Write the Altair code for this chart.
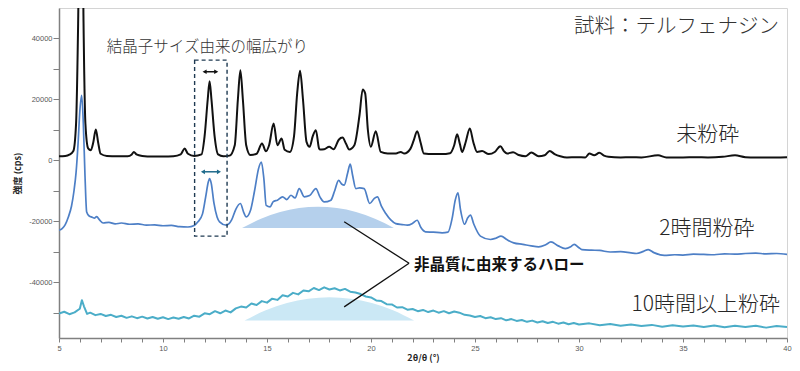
import altair as alt
import pandas as pd

# ---------------- data ----------------
black_x = [5.0, 5.3, 5.5, 5.69, 5.82, 5.92, 6.02, 6.1, 6.18, 6.27, 6.4, 6.53, 6.65, 6.77, 6.88, 7.0, 7.3, 7.8, 8.3, 8.5,
           8.6, 8.72, 9.0, 9.5, 10.0, 10.5, 10.85, 11.04, 11.2, 11.5, 11.85, 12.0, 12.15, 12.24, 12.33, 12.48, 12.65, 12.9,
           13.2, 13.45, 13.6, 13.72, 13.84, 14.0, 14.2, 14.5, 14.76, 14.95, 15.1, 15.32, 15.5, 15.7, 15.85, 16.1, 16.3,
           16.45, 16.59, 16.73, 16.9, 17.05, 17.2, 17.35, 17.5, 17.54, 17.75, 17.99, 18.2, 18.45, 18.63, 18.8, 18.95,
           19.2, 19.45, 19.6, 19.72, 19.85, 19.99, 20.23, 20.47, 20.8, 21.2, 21.43, 21.6, 21.9, 22.05, 22.22, 22.38,
           22.54, 23.0, 23.4, 23.8, 24.0, 24.14, 24.27, 24.38, 24.55, 24.75, 24.92, 25.1, 25.34, 25.66, 25.95, 26.22,
           26.4, 26.54, 26.83, 27.1, 27.42, 27.71, 28.06, 28.35, 28.59, 28.85, 29.1, 29.42, 29.9, 30.3, 30.5, 30.73,
           30.98, 31.2, 31.41, 32.0, 32.5, 33.0, 33.8, 34.2, 35.0, 35.6, 36.2, 36.9, 37.5, 38.0, 38.5, 39.0, 40.0]
black_y = [1400, 1500, 1900, 3100, 12000, 45000, 100000, 100000, 45000, 12000, 4000, 3400, 6000, 10200, 6000, 2200,
           1500, 1400, 1400, 2000, 2800, 2000, 1500, 1300, 1300, 1400, 2000, 3900, 2200, 1500, 2000, 8000, 20000, 26000,
           20000, 8000, 2000, 1400, 1600, 5000, 20000, 29600, 20000, 5000, 1800, 2200, 5600, 3000, 5000, 12100, 5000,
           7200, 3500, 2800, 8000, 22000, 29400, 20000, 6100, 4500, 8000, 9900, 4000, 3600, 3700, 4500, 3700, 6800,
           7500, 5500, 3600, 5000, 15000, 23300, 22000, 10000, 4500, 9600, 2800, 2300, 2300, 2800, 2300, 3900, 6500,
           9600, 6000, 2300, 2100, 2100, 2400, 5000, 8600, 5500, 2800, 6000, 10500, 6000, 2800, 3100, 2100, 2800, 4700,
           3000, 2300, 2700, 1800, 1400, 2600, 1400, 1700, 3100, 2000, 1400, 1000, 1100, 1000, 2300, 1700, 2500, 1600,
           1200, 1000, 1100, 1000, 1700, 1000, 1000, 1100, 1000, 1200, 1700, 1100, 1000, 1000, 1100]

blue_x = [5.0, 5.15, 5.3, 5.45, 5.6, 5.72, 5.82, 5.92, 6.0, 6.09, 6.17, 6.25, 6.33, 6.45, 6.6, 6.7, 6.81, 6.95, 7.12,
          7.4, 7.7, 8.0, 8.4, 8.8, 9.2, 9.6, 10.0, 10.4, 10.8, 11.2, 11.5, 11.68, 11.9, 12.05, 12.18, 12.24, 12.32,
          12.45, 12.6, 12.72, 13.04, 13.3, 13.5, 13.72, 13.88, 14.0, 14.2, 14.4, 14.6, 14.73, 14.85, 14.96, 15.15,
          15.3, 15.5, 15.75, 15.95, 16.15, 16.35, 16.55, 16.79, 17.05, 17.35, 17.55, 17.75, 18.07, 18.25, 18.44, 18.6,
          18.71, 18.88, 19.0, 19.12, 19.27, 19.45, 19.67, 19.94, 20.15, 20.31, 20.5, 20.71, 20.95, 21.19, 21.5, 21.75,
          22.0, 22.22, 22.4, 22.62, 23.0, 23.42, 23.7, 23.9, 24.05, 24.18, 24.3, 24.5, 24.65, 24.78, 24.95, 25.26,
          25.74, 26.0, 26.25, 26.55, 26.86, 27.3, 27.7, 28.06, 28.4, 28.65, 29.0, 29.34, 29.6, 29.77, 30.0, 30.14,
          30.6, 31.0, 31.5, 32.0, 32.5, 32.76, 33.1, 33.33, 33.6, 34.1, 34.6, 35.0, 35.5, 36.0, 36.5, 37.0, 37.5,
          38.0, 38.5, 39.0, 39.5, 40.0]
blue_y = [-22900, -22300, -21000, -18500, -15000, -10000, -4000, 6000, 16000, 21400, 12000, -5000, -16900, -18200,
          -18600, -18900, -18400, -19500, -20500, -20300, -20800, -20500, -20900, -20800, -21200, -21100, -21400,
          -21300, -21700, -21800, -21300, -20100, -17500, -12000, -7000, -5900, -7500, -14000, -18500, -20100, -21200,
          -19500, -16000, -14100, -17000, -18500, -16500, -10000, -2500, -500, -6000, -14700, -15200, -13500, -13000,
          -11900, -12800, -11400, -12300, -9200, -11900, -11500, -9200, -12000, -13600, -13000, -10000, -6500, -7800,
          -8100, -4000, -1200, -5000, -9200, -9000, -9200, -14100, -12500, -11900, -15000, -17400, -19500, -20700,
          -21000, -21200, -20600, -19600, -22000, -23400, -23500, -23700, -23500, -19000, -13000, -10600, -16000,
          -20900, -18800, -17900, -21000, -24800, -25900, -25500, -24800, -26000, -27000, -27500, -28000, -28300,
          -27600, -26700, -28000, -28900, -28300, -27500, -28600, -29200, -29400, -29500, -30000, -29900, -30300,
          -30500, -29800, -29200, -30200, -31100, -30900, -31000, -30700, -30800, -30900, -30600, -30700, -30500,
          -30400, -30600, -30500, -30800]

cyan_x = [5.0, 5.25, 5.5, 5.75, 6.0, 6.1, 6.2, 6.35, 6.5, 6.75, 7.0, 7.25, 7.5, 7.75, 8.0, 8.25, 8.5, 8.75, 9.0,
          9.25, 9.5, 9.75, 10.0, 10.25, 10.5, 10.75, 11.0, 11.25, 11.5, 11.75, 12.0, 12.25, 12.5, 12.75, 13.0, 13.25,
          13.5, 13.75, 14.0, 14.25, 14.5, 14.75, 15.0, 15.25, 15.5, 15.75, 16.0, 16.25, 16.5, 16.75, 17.0, 17.25,
          17.5, 17.75, 18.0, 18.25, 18.5, 18.75, 19.0, 19.25, 19.5, 19.75, 20.0, 20.25, 20.5, 20.75, 21.0, 21.25,
          21.5, 21.75, 22.0, 22.25, 22.5, 22.75, 23.0, 23.25, 23.5, 23.75, 24.0, 24.25, 24.5, 24.75, 25.0, 25.25,
          25.5, 25.75, 26.0, 26.25, 26.5, 26.75, 27.0, 27.25, 27.5, 27.75, 28.0, 28.25, 28.5, 28.75, 29.0, 29.25,
          29.5, 29.75, 30.0, 30.5, 31.0, 31.5, 32.0, 32.5, 33.0, 33.5, 34.0, 34.5, 35.0, 35.5, 36.0, 36.5, 37.0,
          37.5, 38.0, 38.5, 39.0, 39.5, 40.0]
cyan_y = [-50200, -49600, -50400, -49800, -48600, -45800, -47800, -50300, -49900, -50700, -50300, -51000, -50600,
          -51300, -50900, -51600, -51100, -51700, -51200, -51800, -51300, -51900, -51400, -52000, -51500, -51900,
          -51300, -51800, -50900, -51200, -50100, -50400, -49400, -50100, -49200, -49800, -48500, -47900, -48200,
          -46900, -47400, -46100, -46600, -45300, -45700, -44200, -44600, -43400, -43900, -42600, -42900, -41800,
          -42500, -41600, -42300, -41900, -42600, -42100, -43000, -43300, -43800, -44600, -44900, -45900, -46100,
          -47100, -47200, -48200, -48100, -48900, -48700, -49400, -49000, -49700, -49200, -49900, -49400, -50100,
          -49500, -49900, -50600, -50800, -51300, -51000, -51700, -51400, -52000, -51700, -52400, -52000, -52600,
          -52300, -52900, -52500, -53100, -52700, -53300, -52900, -53500, -53100, -53700, -53300, -53800, -53400,
          -54000, -53600, -54200, -53800, -54300, -53900, -54500, -54000, -54400, -54100, -54600, -54100, -54700,
          -54200, -54600, -54200, -54800, -54300, -54600]

series_names = ["未粉砕", "2時間粉砕", "10時間以上粉砕"]
series_colors = ["#111111", "#4d7fc6", "#4badc8"]

# amorphous halo domes
halo1_x = [13.8, 14.71, 15.63, 16.54, 17.45, 18.36, 19.28, 20.19, 21.1]
halo1_top = [-22100, -19100, -16900, -15600, -15200, -15600, -16900, -19100, -22100]
halo1_base = -22100
halo2_x = [13.92, 14.94, 15.96, 16.98, 18.0, 19.02, 20.04, 21.06, 22.07]
halo2_top = [-52500, -49100, -46700, -45300, -44800, -45300, -46700, -49100, -52500]
halo2_base = -52500

# annotation geometry (data coordinates)
box_x = [11.52, 13.08]
box_y = [32900, -24800]
arrow_black = [12.0, 12.56, 29100]
arrow_teal = [11.92, 12.69, -3700]
leader_from = [21.83, -33700]
leader_to = [[18.71, -20100], [18.71, -48000]]

title_text = "試料：テルフェナジン"
broad_text = "結晶子サイズ由来の幅広がり"
halo_text = "非晶質に由来するハロー"
label_pos = [[34.67, 8300], [33.86, -22300], [32.52, -47500]]

# ---------------- frames ----------------
black_df = pd.DataFrame({"x": black_x, "y": black_y})
blue_df = pd.DataFrame({"x": blue_x, "y": blue_y})
cyan_df = pd.DataFrame({"x": cyan_x, "y": cyan_y})

h1 = pd.DataFrame({"x": halo1_x, "y": halo1_top, "y2": halo1_base})
h2 = pd.DataFrame({"x": halo2_x, "y": halo2_top, "y2": halo2_base})

FONT_JP = "Noto Sans CJK JP"
FONT_NUM = "Liberation Sans"

xscale = alt.Scale(domain=[5, 40], nice=False, zero=False)
yscale = alt.Scale(domain=[-58200, 50000], nice=False, zero=False)

xaxis = alt.Axis(
    values=list(range(5, 41)),
    labelExpr="datum.value % 5 === 0 ? '' + datum.value : ''",
    tickSize=4, tickColor="#808080", domainColor="#808080", domainWidth=1.5,
    labelFontSize=7.5, labelColor="#595959", labelFont=FONT_NUM, labelPadding=2,
    labelFlush=False, grid=False,
    titleFont=FONT_JP, titleFontSize=9, titleFontWeight="bold", titleColor="#262626",
    titleY=19, titleBaseline="middle",
)
yaxis = alt.Axis(
    values=list(range(-50000, 50000, 10000)),
    labelExpr="datum.value % 20000 === 0 ? '' + datum.value : ''",
    tickSize=6, tickColor="#808080", domainColor="#808080", domainWidth=1.5,
    labelFontSize=7.5, labelColor="#595959", labelFont=FONT_NUM, labelPadding=1,
    grid=False,
    titleFont=FONT_JP, titleFontSize=9, titleFontWeight="bold", titleColor="#262626",
    titleX=-42, titleY=165, titleBaseline="middle", titleAngle=270,
)


def X(field="x"):
    return alt.X(field, type="quantitative", scale=xscale, axis=xaxis, title="2θ/θ (°)")


def Y(field="y"):
    return alt.Y(field, type="quantitative", scale=yscale, axis=yaxis, title="強度 (cps)")


halo1 = alt.Chart(h1).mark_area(color="#b5d0ec", interpolate="monotone", opacity=1).encode(
    x=X(), y=Y(), y2="y2")
halo2 = alt.Chart(h2).mark_area(color="#cbe8f5", interpolate="monotone", opacity=1).encode(
    x=X(), y=Y(), y2="y2")

line_black = alt.Chart(black_df).mark_line(
    clip=True, strokeWidth=2, color=series_colors[0], interpolate="monotone", strokeJoin="round").encode(
    x=X(), y=Y())
line_blue = alt.Chart(blue_df).mark_line(
    clip=True, strokeWidth=1.7, color=series_colors[1], interpolate="monotone", strokeJoin="round").encode(
    x=X(), y=Y())
line_cyan = alt.Chart(cyan_df).mark_line(
    clip=True, strokeWidth=2, color=series_colors[2], strokeJoin="round").encode(
    x=X(), y=Y())

box_df = pd.DataFrame({"x": [box_x[0]], "x2": [box_x[1]], "y": [box_y[0]], "y2": [box_y[1]]})
box = alt.Chart(box_df).mark_rect(fill=None, stroke="#1f3a52", strokeWidth=1.4, strokeDash=[4, 3]).encode(
    x=X(), x2="x2", y=Y(), y2="y2")

arr_df = pd.DataFrame({
    "x": [arrow_black[0], arrow_teal[0]], "x2": [arrow_black[1], arrow_teal[1]],
    "y": [arrow_black[2], arrow_teal[2]], "c": ["#111111", "#1f6b8c"]})
arr_rules = alt.Chart(arr_df).mark_rule(strokeWidth=1.5).encode(
    x=X(), x2="x2", y=Y(), color=alt.Color("c:N", scale=None))
head_df = pd.DataFrame({
    "x": [arrow_black[0], arrow_black[1], arrow_teal[0], arrow_teal[1]],
    "y": [arrow_black[2], arrow_black[2], arrow_teal[2], arrow_teal[2]],
    "shape": ["triangle-left", "triangle-right", "triangle-left", "triangle-right"],
    "c": ["#111111", "#111111", "#1f6b8c", "#1f6b8c"]})
heads = alt.Chart(head_df).mark_point(filled=True, size=22, opacity=1).encode(
    x=X(), y=Y(), shape=alt.Shape("shape:N", scale=None), color=alt.Color("c:N", scale=None))

lead_df = pd.DataFrame({
    "x": [leader_from[0], leader_from[0]], "y": [leader_from[1], leader_from[1]],
    "x2": [p[0] for p in leader_to], "y2": [p[1] for p in leader_to]})
leaders = alt.Chart(lead_df).mark_rule(color="#111111", strokeWidth=1.3).encode(
    x=X(), y=Y(), x2="x2", y2="y2")

t_title = alt.Chart(pd.DataFrame({"x": [39.61], "y": [43700], "t": [title_text]})).mark_text(
    font=FONT_JP, fontSize=20.5, align="right", baseline="middle", color="#333333", fontWeight=300).encode(
    x=X(), y=Y(), text="t:N")
t_broad = alt.Chart(pd.DataFrame({"x": [7.3], "y": [37300], "t": [broad_text]})).mark_text(
    font=FONT_JP, fontSize=15.5, align="left", baseline="middle", color="#333333", fontWeight=300).encode(
    x=X(), y=Y(), text="t:N")
t_halo = alt.Chart(pd.DataFrame({"x": [22.07], "y": [-34300], "t": [halo_text]})).mark_text(
    font=FONT_JP, fontSize=15.5, align="left", baseline="middle", color="#111111", fontWeight="bold").encode(
    x=X(), y=Y(), text="t:N")
t_labels = alt.Chart(pd.DataFrame({
    "x": [p[0] for p in label_pos], "y": [p[1] for p in label_pos], "t": series_names})).mark_text(
    font=FONT_JP, fontSize=21, align="left", baseline="middle", color="#262626", fontWeight=300).encode(
    x=X(), y=Y(), text="t:N")

chart = alt.layer(
    halo1, halo2, line_black, line_blue, line_cyan, box, arr_rules, heads, leaders,
    t_title, t_broad, t_halo, t_labels
).properties(
    width=728, height=330,
    padding={"left": 51, "top": 0, "right": 5, "bottom": 25},
    autosize=alt.AutoSizeParams(type="none"),
).configure_view(stroke="#d4d4d4", strokeWidth=1)

chart.save("out.html", embed_options={"renderer": "svg", "actions": False})
